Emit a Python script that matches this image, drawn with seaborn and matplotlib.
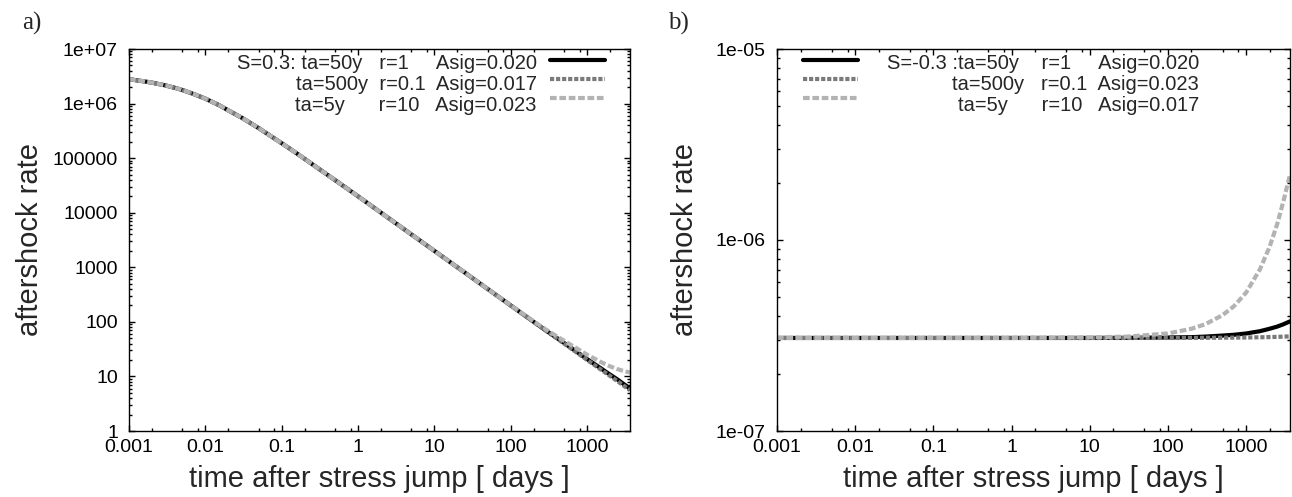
import numpy as np
import pandas as pd
import matplotlib
matplotlib.use("Agg")
import matplotlib.pyplot as plt
import seaborn as sns
from matplotlib.ticker import LogLocator, FixedLocator, FixedFormatter, NullFormatter

sns.set_style("ticks")
plt.rcParams['font.family'] = ['Liberation Sans', 'DejaVu Sans']

# ---------------- data ----------------
# panel a) S = 0.3
t_a = [0.001, 0.0015, 0.002, 0.003, 0.004, 0.005, 0.007, 0.01, 0.015, 0.02,
       0.03, 0.05, 0.07, 0.1, 0.15, 0.2, 0.3, 0.5, 1, 2, 5, 10,
       20, 50, 100, 200, 300, 500, 700, 1000, 1500, 2000, 2500, 3000, 3650]
rate_a_50y = [2.8e6, 2.58e6, 2.42e6, 2.15e6, 1.94e6, 1.77e6, 1.50e6, 1.23e6,
              9.4e5, 7.5e5, 5.5e5, 3.55e5, 2.6e5, 1.88e5, 1.28e5, 9.7e4,
              6.5e4, 3.96e4, 2.0e4, 1.0e4, 4.0e3, 2.0e3, 1.0e3, 400, 200,
              100, 67, 41, 29.5, 20.8, 14.2, 10.8, 8.8, 7.3, 6.0]
rate_a_500y = [2.8e6, 2.58e6, 2.42e6, 2.15e6, 1.94e6, 1.77e6, 1.50e6, 1.23e6,
               9.4e5, 7.5e5, 5.5e5, 3.55e5, 2.6e5, 1.88e5, 1.28e5, 9.7e4,
               6.5e4, 3.96e4, 2.0e4, 1.0e4, 4.0e3, 2.0e3, 1.0e3, 400, 199,
               99.5, 66.5, 40, 28.7, 20.1, 13.5, 10.2, 8.2, 6.8, 5.6]
rate_a_5y = [2.8e6, 2.58e6, 2.42e6, 2.15e6, 1.94e6, 1.77e6, 1.50e6, 1.23e6,
             9.4e5, 7.5e5, 5.5e5, 3.55e5, 2.6e5, 1.88e5, 1.28e5, 9.7e4,
             6.5e4, 3.96e4, 2.0e4, 1.0e4, 4.0e3, 2.0e3, 1.0e3, 400, 201,
             102, 70, 45, 34, 25, 18.5, 15.3, 13.6, 12.6, 11.8]

# panel b) S = -0.3
t_b = [0.001, 0.01, 0.1, 1, 10, 30, 100, 200, 300, 500, 700, 1000, 1500,
       2000, 2500, 3000, 3650]
rate_b_50y = [3.07e-7, 3.07e-7, 3.07e-7, 3.07e-7, 3.07e-7, 3.075e-7, 3.087e-7,
              3.10e-7, 3.12e-7, 3.16e-7, 3.19e-7, 3.24e-7, 3.33e-7, 3.43e-7,
              3.52e-7, 3.62e-7, 3.75e-7]
rate_b_500y = [3.07e-7, 3.07e-7, 3.07e-7, 3.07e-7, 3.07e-7, 3.07e-7, 3.07e-7,
               3.072e-7, 3.075e-7, 3.078e-7, 3.082e-7, 3.087e-7, 3.095e-7,
               3.103e-7, 3.11e-7, 3.12e-7, 3.13e-7]
rate_b_5y = [3.07e-7, 3.07e-7, 3.07e-7, 3.07e-7, 3.09e-7, 3.12e-7, 3.24e-7,
             3.43e-7, 3.62e-7, 4.04e-7, 4.5e-7, 5.3e-7, 7.0e-7, 9.2e-7,
             1.21e-6, 1.59e-6, 2.2e-6]

legend_a = ["S=0.3: ta=50y   r=1     Asig=0.020",
            "ta=500y  r=0.1  Asig=0.017",
            "ta=5y      r=10   Asig=0.023"]
legend_b = ["S=-0.3 :ta=50y    r=1     Asig=0.020",
            "ta=500y   r=0.1  Asig=0.023",
            "ta=5y      r=10   Asig=0.017"]

xticks = [0.001, 0.01, 0.1, 1, 10, 100, 1000]
xticklabels = ["0.001", "0.01", "0.1", "1", "10", "100", "1000"]
yticks_a = [1, 10, 100, 1000, 1e4, 1e5, 1e6, 1e7]
yticklabels_a = ["1", "10", "100", "1000", "10000", "100000", "1e+06", "1e+07"]
yticks_b = [1e-7, 1e-6, 1e-5]
yticklabels_b = ["1e-07", "1e-06", "1e-05"]

# ---------------- styles ----------------
LW = 3.0
styles = [
    dict(color="black", lw=LW, linestyle="-"),
    dict(color="#7a7a7a", lw=LW, linestyle=(0, (1.0, 0.45))),
    dict(color="#b3b3b3", lw=LW, linestyle=(0, (1.6, 0.65))),
]

fig = plt.figure(figsize=(12.92, 4.97), dpi=100)
ax_a = fig.add_axes([129/1292, 1-431/497, (630-129)/1292, (431-49)/497])
ax_b = fig.add_axes([777/1292, 1-431/497, (1290-777)/1292, (431-49)/497])


def style_axis(ax, yticks, yticklabels, ylim):
    ax.set_xscale("log")
    ax.set_yscale("log")
    ax.set_xlim(0.001, 3650)
    ax.set_ylim(*ylim)
    ax.xaxis.set_major_locator(FixedLocator(xticks))
    ax.xaxis.set_major_formatter(FixedFormatter(xticklabels))
    ax.yaxis.set_major_locator(FixedLocator(yticks))
    ax.yaxis.set_major_formatter(FixedFormatter(yticklabels))
    ax.xaxis.set_minor_locator(LogLocator(base=10, subs=(2, 5, 8), numticks=30))
    ax.yaxis.set_minor_locator(LogLocator(base=10, subs=tuple(range(2, 10)), numticks=30))
    ax.xaxis.set_minor_formatter(NullFormatter())
    ax.yaxis.set_minor_formatter(NullFormatter())
    ax.tick_params(which="both", direction="in", top=True, right=True,
                   width=1.0, color="black", labelsize=14, labelcolor="black")
    ax.tick_params(which="major", length=4.5)
    ax.tick_params(which="minor", length=2.3)
    ax.tick_params(axis="x", which="major", pad=6)
    ax.tick_params(axis="y", which="major", pad=8)
    for s in ax.spines.values():
        s.set_linewidth(1.0)
        s.set_color("black")
    ax.set_xlabel("time after stress jump [ days ]", fontsize=21)
    ax.set_ylabel("aftershock rate", fontsize=21)
    ax.grid(False)


series_a = [rate_a_50y, rate_a_500y, rate_a_5y]
series_b = [rate_b_50y, rate_b_500y, rate_b_5y]

for ax, t, series in [(ax_a, t_a, series_a), (ax_b, t_b, series_b)]:
    ax.set_xscale("log")
    ax.set_yscale("log")
    for vals, st in zip(series, styles):
        df = pd.DataFrame({"t": t, "rate": vals})
        sns.lineplot(data=df, x="t", y="rate", ax=ax, color=st["color"],
                     lw=st["lw"], linestyle=st["linestyle"],
                     estimator=None, sort=False)

style_axis(ax_a, yticks_a, yticklabels_a, (1, 1e7))
style_axis(ax_b, yticks_b, yticklabels_b, (1e-7, 1e-5))

ax_a.yaxis.set_label_coords(-0.170, 0.5)
ax_b.yaxis.set_label_coords(-0.152, 0.5)
ax_a.xaxis.set_label_coords(0.5, -0.088)
ax_b.xaxis.set_label_coords(0.5, -0.088)

# legends: line samples via legend, text right-aligned columns
row_y = [0.961, 0.907, 0.852]
handles_a = ax_a.get_lines()[:3]
handles_b = ax_b.get_lines()[:3]
leg_a = ax_a.legend(handles_a, ["", "", ""], loc="upper right",
                    bbox_to_anchor=(0.950, 0.990), frameon=False,
                    handlelength=2.83, handletextpad=0.0, borderpad=0.0,
                    borderaxespad=0.0, labelspacing=0.07, fontsize=14)
leg_b = ax_b.legend(handles_b, ["", "", ""], loc="upper left",
                    bbox_to_anchor=(0.0507, 0.990), frameon=False,
                    handlelength=2.83, handletextpad=0.0, borderpad=0.0,
                    borderaxespad=0.0, labelspacing=0.07, fontsize=14)

for txt, y in zip(legend_a, row_y):
    ax_a.text(0.814, y, txt, transform=ax_a.transAxes, ha="right",
              va="center", fontsize=14.5)
for txt, y in zip(legend_b, row_y):
    ax_b.text(0.8226, y, txt, transform=ax_b.transAxes, ha="right",
              va="center", fontsize=14.5)

fig.text(22/1292, 1-30/497, "a)", fontsize=18, family="Liberation Serif",
         va="baseline", ha="left")
fig.text(668/1292, 1-30/497, "b)", fontsize=18, family="Liberation Serif",
         va="baseline", ha="left")

fig.savefig("out.png", dpi=100)
